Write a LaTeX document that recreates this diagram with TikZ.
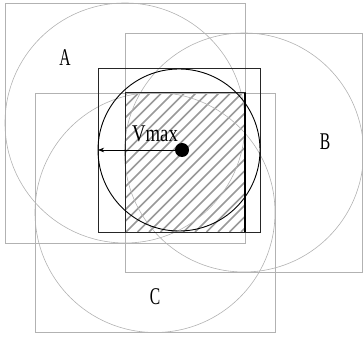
\documentclass[tikz,border=0pt]{standalone}
\usepackage{fontspec}
\setmainfont{Liberation Serif}
\usepackage{tikz}
\usetikzlibrary{positioning,calc,arrows.meta}

\begin{document}
\begin{tikzpicture}[x=1pt, y=1pt, >=Stealth,
    zone/.style={draw=black!30, line width=0.6pt},
    bound/.style={draw=black!85, line width=1pt},
    hatch/.style={draw=black!40, line width=1.7pt},
    lbl/.style={font=\fontsize{24}{24}\selectfont, xscale=0.65, transform shape}]
  \useasboundingbox (0,0) rectangle (363,337);

  \coordinate (cA) at (125,214);
  \coordinate (cB) at (244,184.5);
  \coordinate (cC) at (155,124.5);
  \coordinate (cV) at (179,187);

  % hatched overlap
  \begin{scope}
    \clip (125,105) rectangle (245,244);
    \foreach \k in {-160,-148.5,...,130}
      \draw[hatch] (125+\k,105) -- ++(150,150);
  \end{scope}

  \draw[zone] (5,94) rectangle (245,334);
  \draw[zone] (cA) circle (120);
  \draw[zone] (125,65) rectangle (362.5,304);
  \draw[zone] (cB) circle (119.5);
  \draw[zone] (35,5) rectangle (275,244);
  \draw[zone] (cC) circle (120);

  \draw[bound] (98,105) rectangle (260,268);
  \draw[bound] (125,105) rectangle (245,244);
  \draw[black, line width=1.4pt] (245,105) -- (245,244);
  \draw[black, line width=0.9pt] (cV) circle (81);

  \fill (182,187) circle (7) coordinate (dot);
  \coordinate (rim) at (98,187);
  \draw[->, line width=0.7pt] (dot) -- (rim);

  \node[lbl, xscale=1.2] (vmax) at (155,203) {Vmax};
  \node[lbl] (A) at (65,279) {A};
  \node[lbl] (B) at (325,195) {B};
  \node[lbl] (C) at (155,40) {C};
\end{tikzpicture}
\end{document}
